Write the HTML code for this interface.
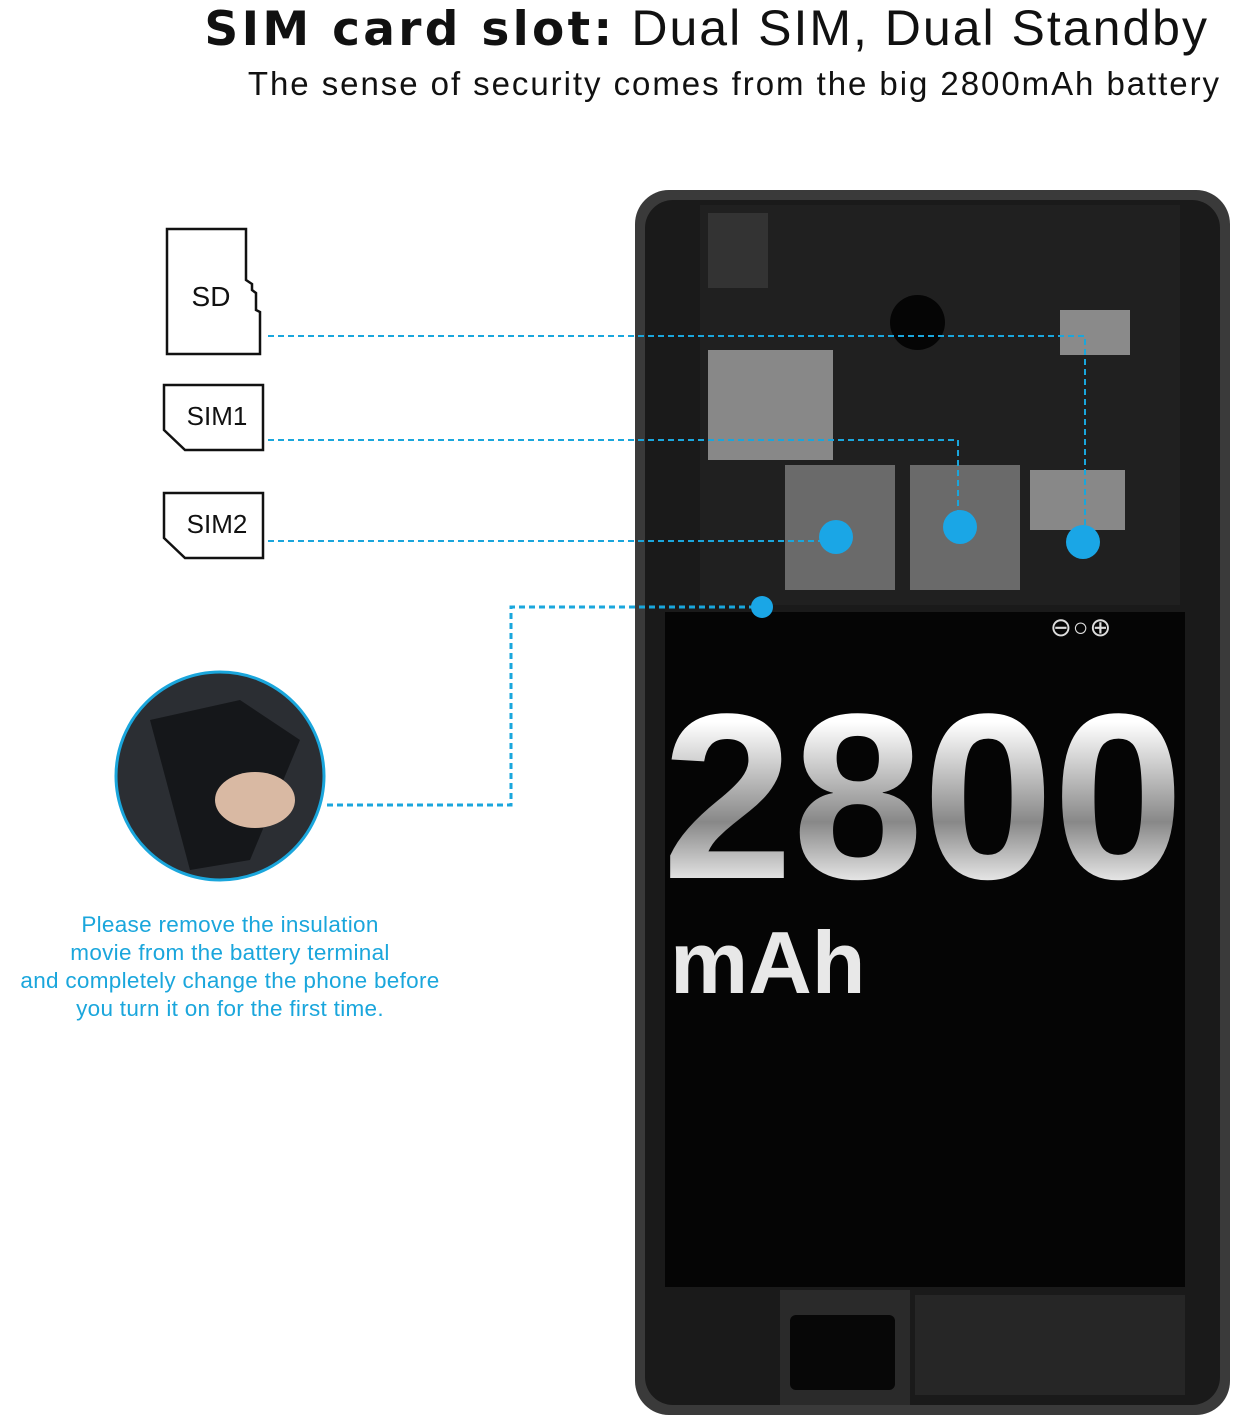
<!DOCTYPE html>
<html><head><meta charset="utf-8"><style>
body{margin:0;width:1233px;height:1420px;background:#fff;position:relative;overflow:hidden;font-family:"Liberation Sans",sans-serif}
.a{position:absolute}
</style></head><body>
<div class="a" style="right:24px;top:0;font-size:50px;line-height:56px;color:#111;white-space:nowrap;letter-spacing:2px"><b style="font-family:'DejaVu Sans','Liberation Sans',sans-serif;font-size:47px;letter-spacing:3.3px">SIM card slot:</b> Dual SIM, Dual Standby</div>
<div class="a" style="right:12px;top:64px;font-size:33px;line-height:40px;color:#111;white-space:nowrap;letter-spacing:1.95px">The sense of security comes from the big 2800mAh battery</div>

<!-- phone -->
<div class="a" style="left:635px;top:190px;width:595px;height:1225px;background:#3a3a3a;border-radius:34px"></div>
<div class="a" style="left:645px;top:200px;width:575px;height:1205px;background:#1a1a1a;border-radius:28px"></div>
<div class="a" style="left:700px;top:205px;width:480px;height:400px;background:#202020"></div>
<div class="a" style="left:708px;top:350px;width:125px;height:110px;background:#888"></div>
<div class="a" style="left:785px;top:465px;width:110px;height:125px;background:#6a6a6a"></div>
<div class="a" style="left:910px;top:465px;width:110px;height:125px;background:#6a6a6a"></div>
<div class="a" style="left:1030px;top:470px;width:95px;height:60px;background:#888"></div>
<div class="a" style="left:1060px;top:310px;width:70px;height:45px;background:#8a8a8a"></div>
<div class="a" style="left:890px;top:295px;width:55px;height:55px;border-radius:50%;background:#050505"></div>
<div class="a" style="left:708px;top:213px;width:60px;height:75px;background:#333"></div>
<div class="a" style="left:665px;top:612px;width:520px;height:675px;background:#050505"></div>
<div class="a" style="left:780px;top:1290px;width:130px;height:115px;background:#2a2a2a"></div>
<div class="a" style="left:790px;top:1315px;width:105px;height:75px;background:#070707;border-radius:6px"></div>
<div class="a" style="left:915px;top:1295px;width:270px;height:100px;background:#262626"></div>
<div class="a" style="left:1050px;top:612px;font-size:26px;color:#ddd;letter-spacing:1px">⊖○⊕</div>
<div class="a" style="left:662px;top:672px;font-size:236px;font-weight:bold;line-height:250px;letter-spacing:-1px;background:linear-gradient(#fff 20%,#888 60%,#fff 90%);-webkit-background-clip:text;color:transparent">2800</div>
<div class="a" style="left:670px;top:915px;font-size:88px;font-weight:bold;line-height:95px;color:#e8e8e8">mAh</div>

<svg class="a" style="left:0;top:0" width="1233" height="1420">
<g fill="#fff" stroke="#111" stroke-width="2.5">
<path d="M167 229 H246 V280 L252 284 V290 L256 293 V310 L260 312 V354 H167 Z"/>
<path d="M164 385 H263 V450 H185 L164 430 Z"/>
<path d="M164 493 H263 V558 H185 L164 538 Z"/>
</g>
<g stroke="#1aa6dc" stroke-width="2" stroke-dasharray="6 4" fill="none">
<path d="M268 336 H1085 V540"/>
<path d="M268 440 H958 V525"/>
<path d="M268 541 H836"/>
<path d="M327 805 H511 V607 H762" stroke-width="3"/>
</g>
<g fill="#1aa6e6">
<circle cx="836" cy="537" r="17"/><circle cx="960" cy="527" r="17"/><circle cx="1083" cy="542" r="17"/><circle cx="762" cy="607" r="11"/>
</g>
<circle cx="220" cy="776" r="104" fill="#2b2e33" stroke="#1aa6dc" stroke-width="3"/>
<path d="M150 720 L240 700 L300 740 L250 860 L190 870 Z" fill="#15171a"/>
<ellipse cx="255" cy="800" rx="40" ry="28" fill="#d9b9a3"/>
<text x="211" y="306" font-size="28" text-anchor="middle" font-family="Liberation Sans" fill="#111">SD</text>
<text x="217" y="425" font-size="26" text-anchor="middle" font-family="Liberation Sans" fill="#111">SIM1</text>
<text x="217" y="533" font-size="26" text-anchor="middle" font-family="Liberation Sans" fill="#111">SIM2</text>
</svg>
<div class="a" style="left:0;top:911px;width:460px;text-align:center;color:#1aa6dc;font-size:22.5px;line-height:28px;letter-spacing:0.3px">Please remove the insulation<br>movie from the battery terminal<br>and completely change the phone before<br>you turn it on for the first time.</div>
</body></html>
